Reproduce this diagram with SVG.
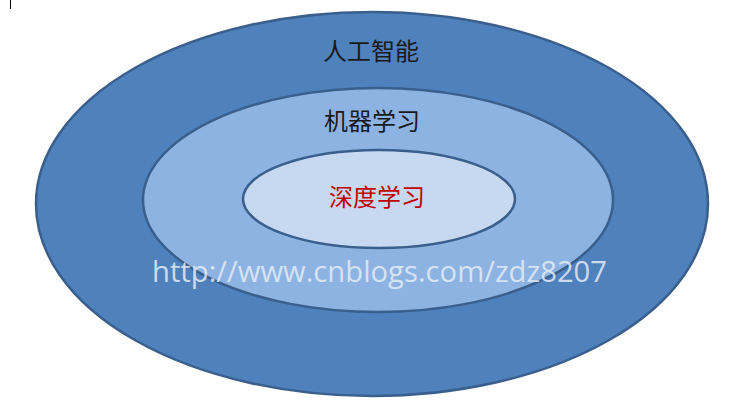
<svg xmlns="http://www.w3.org/2000/svg" width="747" height="418" viewBox="0 0 747 418">
<style>
.ring{stroke:#3A5F8C;stroke-width:2.5}
.lbl{font-family:"Liberation Sans","Noto Sans CJK SC",sans-serif;font-size:24px;text-anchor:middle}
.wm{font-family:"Open Sans","Liberation Sans",sans-serif;font-size:30px;fill:#E4ECF6;fill-opacity:0.85}
</style>
<rect width="747" height="418" fill="#FFFFFF"/>
<line x1="10.5" y1="0" x2="10.5" y2="9" stroke="#000" stroke-width="1"/>
<g id="ai">
<ellipse class="ring" cx="372" cy="204" rx="336" ry="192" fill="#4F81BD"/>
<text class="lbl" x="371" y="60" fill="#1A1A1A">人工智能</text>
</g>
<g id="ml">
<ellipse class="ring" cx="378" cy="200" rx="235" ry="112" fill="#8DB3E2"/>
<text class="lbl" x="372" y="130" fill="#1A1A1A">机器学习</text>
</g>
<g id="dl">
<ellipse class="ring" cx="379" cy="199" rx="136" ry="49" fill="#C6D9F1"/>
<text class="lbl" x="377" y="206" fill="#C00000">深度学习</text>
</g>
<g id="connectors"></g>
<text class="wm" x="152" y="282" textLength="455" lengthAdjust="spacingAndGlyphs">http://www.cnblogs.com/zdz8207</text>
</svg>
